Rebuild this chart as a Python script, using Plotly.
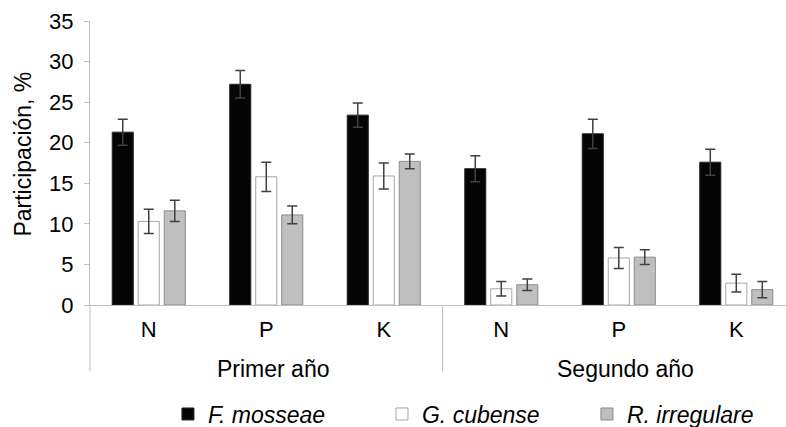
import plotly.graph_objects as go

years = ["Primer año"] * 3 + ["Segundo año"] * 3
nutrients = ["N", "P", "K", "N", "P", "K"]

series_names = ["F. mosseae", "G. cubense", "R. irregulare"]
f_mosseae = [21.3, 27.2, 23.4, 16.8, 21.1, 17.6]
f_mosseae_err = [1.6, 1.7, 1.5, 1.6, 1.8, 1.6]
g_cubense = [10.3, 15.8, 15.9, 2.0, 5.8, 2.7]
g_cubense_err = [1.5, 1.8, 1.6, 0.9, 1.3, 1.1]
r_irregulare = [11.6, 11.1, 17.7, 2.5, 5.9, 1.9]
r_irregulare_err = [1.3, 1.1, 0.9, 0.7, 0.9, 1.0]

y_title = "Participación, %"

fills = ["#050505", "#ffffff", "#bfbfbf"]
outlines = ["#262626", "#a6a6a6", "#8c8c8c"]
AXIS_GRAY = "#bfbfbf"
FONT = "Liberation Sans, Arial, sans-serif"

values = [f_mosseae, g_cubense, r_irregulare]
errors = [f_mosseae_err, g_cubense_err, r_irregulare_err]

# unique category keys, labelled with the nutrient only
keys = ["%s|%s" % (g, n) for g, n in zip(years, nutrients)]

X_RANGE = [-0.5, 5.423]
legend_names = ["legend", "legend2", "legend3"]
legend_x = [0.112, 0.4195, 0.714]

fig = go.Figure()
for name, v, e, fc, lc, lg in zip(series_names, values, errors, fills, outlines, legend_names):
    fig.add_trace(go.Bar(
        x=keys,
        y=v,
        name="<i>%s</i>" % name,
        legend=lg,
        marker=dict(color=fc, line=dict(color=lc, width=1)),
        error_y=dict(type="data", array=e, visible=True,
                     color="#404040", thickness=1.5, width=5),
    ))

legend_common = dict(orientation="h", xanchor="left",
                     yref="container", y=0.0304, yanchor="middle",
                     font=dict(family=FONT, size=23, color="#000000"),
                     bgcolor="rgba(0,0,0,0)", itemwidth=30)
layout_legends = {lg: dict(legend_common, x=lx) for lg, lx in zip(legend_names, legend_x)}

def to_paper(idx):
    return (idx - X_RANGE[0]) / (X_RANGE[1] - X_RANGE[0])

# group labels and dividers for the two-level category axis
annotations = []
shapes = []
group_order = []
for g in years:
    if g not in group_order:
        group_order.append(g)
for g in group_order:
    idx = [i for i, yy in enumerate(years) if yy == g]
    centre = sum(idx) / len(idx)
    annotations.append(dict(
        x=to_paper(centre), y=-0.2266, xref="paper", yref="paper",
        xanchor="center", yanchor="middle", xshift=7,
        text=g, showarrow=False,
        font=dict(family=FONT, size=23, color="#000000"),
    ))
    start = min(idx) - 0.5
    shapes.append(dict(type="line", xref="paper", yref="paper",
                       x0=to_paper(start), x1=to_paper(start), y0=0, y1=-0.2337,
                       line=dict(color=AXIS_GRAY, width=1)))

annotations.append(dict(
    x=-0.0963, y=0.533, xref="paper", yref="paper",
    xanchor="center", yanchor="middle", textangle=-90,
    text=y_title, showarrow=False,
    font=dict(family=FONT, size=23, color="#000000"),
))

fig.update_layout(
    width=786, height=427,
    margin=dict(l=90, r=0, t=21, b=122.3),
    paper_bgcolor="white", plot_bgcolor="white",
    barmode="group", bargap=0.336, bargroupgap=0.19,
    font=dict(family=FONT, color="#000000", size=22),
    showlegend=True,
    annotations=annotations,
    shapes=shapes,
    **layout_legends,
)

fig.update_xaxes(
    type="category",
    range=X_RANGE,
    tickmode="array", tickvals=keys, ticktext=nutrients,
    showline=True, linecolor=AXIS_GRAY, linewidth=1,
    showgrid=False, ticks="", automargin=False,
    ticklabelstandoff=5,
    tickfont=dict(family=FONT, size=22, color="#000000"),
    zeroline=False,
)
fig.update_yaxes(
    range=[0, 35], dtick=5, tick0=0,
    showline=True, linecolor=AXIS_GRAY, linewidth=1,
    ticks="outside", ticklen=5, tickcolor=AXIS_GRAY, tickwidth=1,
    showgrid=False, zeroline=False, automargin=False,
    ticklabelstandoff=6,
    tickfont=dict(family=FONT, size=22, color="#000000"),
)

fig.write_html("out.html")
